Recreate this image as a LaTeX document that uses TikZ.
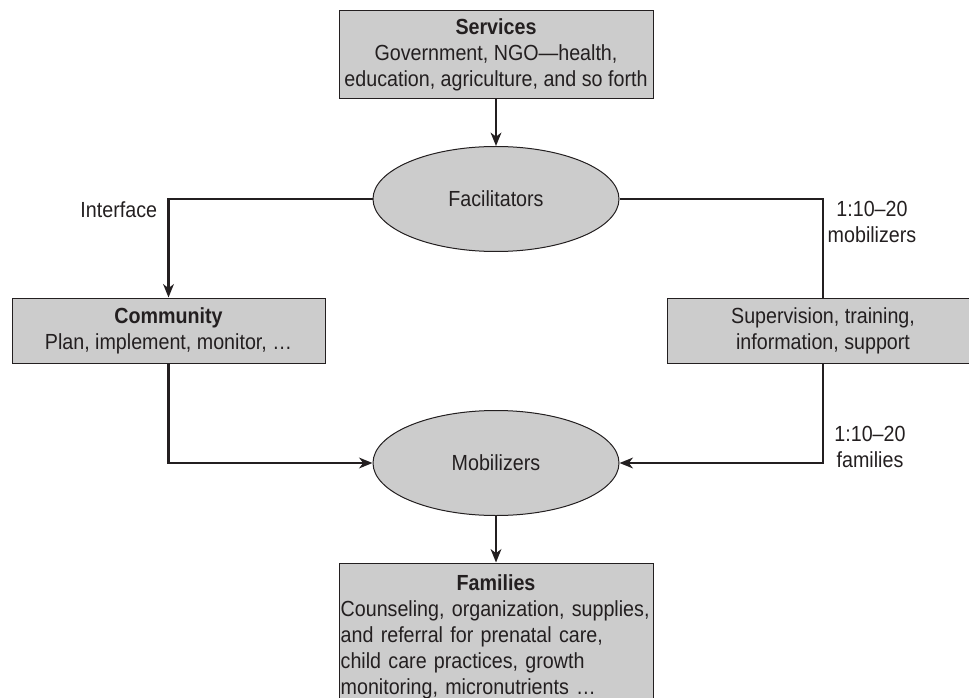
\documentclass[tikz,border=0pt]{standalone}
\usepackage{fontspec}
\setmainfont{Liberation Sans}[FakeStretch=0.9]
\usetikzlibrary{arrows.meta,shapes.geometric}

\definecolor{boxgray}{RGB}{204,204,204}
\definecolor{inkgray}{RGB}{35,31,32}

\tikzset{every picture/.style={line width=0.75pt}}
\tikzset{
	txt/.style={font=\fontsize{16.4}{19.5}\selectfont, text=inkgray},
	box/.style={txt, draw=inkgray, fill=boxgray, rectangle, align=center, inner sep=0pt},
	oval/.style={txt, draw=inkgray, fill=boxgray, ellipse, inner sep=0pt, minimum width=184.5pt, minimum height=78.75pt},
	link/.style={line width=1.8pt, draw=inkgray, -{Stealth[length=10pt,width=8pt,inset=3pt]}},
	plain/.style={line width=1.8pt, draw=inkgray}
}

\begin{document}
\begin{tikzpicture}[x=0.75pt,y=0.75pt,yscale=-1,xscale=1]
	\useasboundingbox (0,0) rectangle (969,698);

	%Shape: Rectangle [services]
	\node (serv) [box, minimum width=235.5pt, minimum height=66pt] at (496,55) {\textbf{Services}\\Government, NGO—health,\\education, agriculture, and so forth};
	%Shape: Ellipse [facilitators]
	\node (fac) [oval] at (496,199) {Facilitators};
	%Shape: Rectangle [community]
	\node (com) [box, minimum width=234.75pt, minimum height=48.75pt] at (168.5,330.5) {\textbf{Community}\\Plan, implement, monitor, …};
	%Shape: Rectangle [supervision]
	\node (sup) [box, minimum width=234pt, minimum height=48.75pt] at (823,330.5) {Supervision, training,\\information, support};
	%Shape: Ellipse [mobilizers]
	\node (mob) [oval] at (496,463) {Mobilizers};
	%Shape: Rectangle [families]
	\node (fam) [box, align=left, text width=233pt, minimum width=235.5pt, minimum height=110.25pt] at (496,636.5) {\hbox to\hsize{\hfil\textbf{Families}\hfil}\\Counseling, organization, supplies,\\and referral for prenatal care,\\child care practices, growth\\monitoring, micronutrients …};

	%Straight Lines [connectors]
	\draw [link] (serv) -- (fac);
	\draw [link] (fac.west) -| (com.north);
	\draw [plain] (fac.east) -| (sup.north);
	\draw [link] (com.south) |- (mob.west);
	\draw [link] (sup.south) |- (mob.east);
	\draw [link] (mob) -- (fam);

	% Text Node
	\node (iface) [txt, anchor=east] at (162,210) {Interface};
	% Text Node
	\node (ratiomob) [txt, align=center] at (872,222) {1:10–20\\mobilizers};
	% Text Node
	\node (ratiofam) [txt, align=center] at (870,447) {1:10–20\\families};

\end{tikzpicture}
\end{document}
